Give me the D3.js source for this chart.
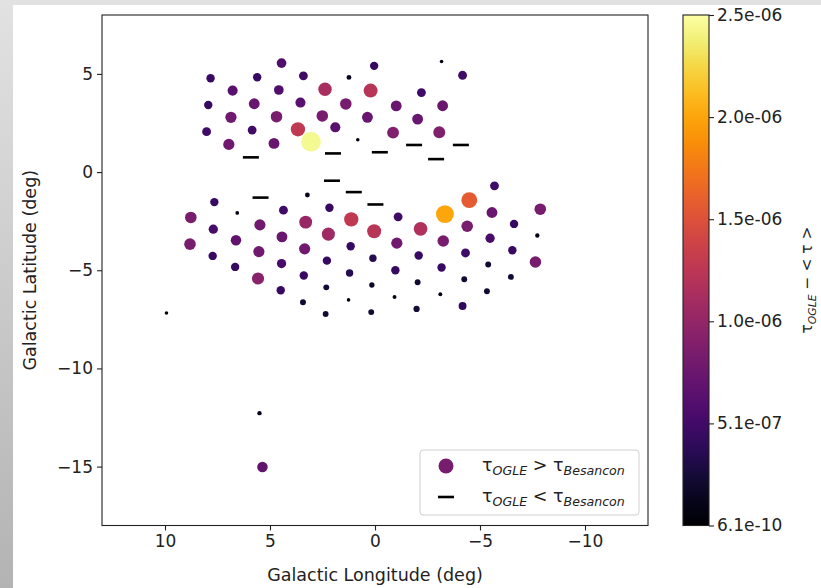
<!DOCTYPE html>
<html><head><meta charset="utf-8">
<script src="https://cdn.jsdelivr.net/npm/d3@7"></script>
<style>body{margin:0;background:#fff}svg{display:block;font-family:"DejaVu Sans",sans-serif}</style>
</head><body><svg id="c" width="821" height="588"></svg>
<script>
// Fields where tau_OGLE > tau_Besancon: longitude, latitude, tau_OGLE - <tau> (units 1e-6)
const lon = [7.83,6.78,7.94,6.86,8.02,6.96,5.61,5.75,5.85,4.45,4.58,4.69,4.81,3.41,3.55,3.67,3.05,2.38,2.51,1.89,1.24,1.39,0.82,0.04,0.21,0.36,-1.01,-0.86,-2.21,-2.03,-3.17,-3.22,-3.06,-4.17,
  8.77,8.81,7.65,7.70,7.73,6.56,6.62,6.66,5.48,5.53,5.57,4.36,4.43,4.45,4.49,3.22,3.30,3.35,3.39,3.43,2.17,2.22,2.29,2.32,2.35,1.13,1.16,1.21,1.26,0.04,0.10,0.15,0.18,-1.10,-1.04,-0.97,-0.93,-2.17,-2.08,-2.03,-1.98,-3.33,-3.25,-3.17,-3.11,-4.17,-4.49,-4.39,-4.31,-4.25,-5.33,-5.39,-5.48,-5.57,-5.69,-6.62,-6.54,-6.47,-7.87,-7.73,-7.64,9.93,5.50,5.36];
const lat = [4.78,4.15,3.42,2.79,2.06,1.41,4.83,3.48,2.14,5.55,4.18,2.82,1.46,4.90,3.54,2.18,1.55,4.22,2.86,2.28,4.82,3.47,1.65,5.41,4.15,2.79,3.37,2.01,4.05,2.70,5.63,3.38,2.03,4.93,
  -2.31,-3.67,-1.53,-2.91,-4.27,-2.08,-3.47,-4.83,-2.69,-4.05,-5.42,-1.94,-3.30,-4.66,-6.02,-1.17,-2.55,-3.91,-5.27,-6.63,-1.82,-3.16,-4.51,-5.87,-7.23,-2.41,-3.78,-5.14,-6.51,-3.01,-4.39,-5.75,-7.13,-2.28,-3.62,-5.00,-6.36,-2.89,-4.25,-5.61,-6.97,-2.14,-3.51,-4.86,-6.22,-6.82,-1.43,-2.76,-4.12,-5.46,-6.07,-4.71,-3.37,-2.06,-0.70,-2.64,-3.98,-5.34,-1.89,-3.23,-4.58,-7.18,-12.28,-15.02];
const tau = [0.45,0.65,0.45,0.80,0.50,0.80,0.45,0.75,0.50,0.60,0.60,0.85,0.75,0.50,0.65,1.30,2.50,1.15,0.85,0.65,0.15,0.85,0.08,0.45,1.25,0.75,0.75,0.90,0.50,0.75,0.08,0.75,0.90,0.50,
  0.85,0.85,0.45,0.55,0.45,0.09,0.70,0.45,0.80,0.80,0.95,0.50,0.75,0.55,0.45,0.15,1.05,0.80,0.45,0.22,0.45,1.10,0.45,0.22,0.22,1.30,0.45,0.35,0.08,1.25,0.35,0.18,0.22,0.50,0.80,0.45,0.10,1.20,0.45,0.22,0.25,2.05,0.85,0.45,0.10,0.40,1.60,0.85,0.50,0.22,0.22,0.22,0.55,0.75,0.50,0.45,0.45,0.22,0.85,0.12,0.85,0.06,0.12,0.70];
// Fields where tau_OGLE < tau_Besancon
const dashLon = [5.91,2.00,-0.23,-1.86,-2.91,-4.09,5.45,2.05,1.01,-0.02];
const dashLat = [0.75,0.95,1.01,1.38,0.66,1.38,-1.30,-0.44,-1.02,-1.65];
const xTicks = [10,5,0,-5,-10];
const yTicks = [5,0,-5,-10,-15];
const cbMin = 6.1e-10, cbMax = 2.55e-6;
const cbTickLabels = ["6.1e-10","5.1e-07","1.0e-06","1.5e-06","2.0e-06","2.5e-06"];

const svg = d3.select("#c");
const defs = svg.append("defs");
const lg = defs.append("linearGradient").attr("id","side").attr("x1",0).attr("y1",0).attr("x2",0).attr("y2",1);
lg.append("stop").attr("offset",0).attr("stop-color","#e2e2e2");
lg.append("stop").attr("offset",1).attr("stop-color","#b3b3b3");
svg.append("rect").attr("x",0).attr("y",0).attr("width",821).attr("height",5).attr("fill","#e1e1e1");
svg.append("rect").attr("x",0).attr("y",0).attr("width",13).attr("height",588).attr("fill","url(#side)");

const L=102, R=648, T=15, B=525.5;
const x = d3.scaleLinear().domain([13,-13]).range([L,R]);
const y = d3.scaleLinear().domain([8,-18]).range([T,B]);
const color = d3.scaleSequential(d3.interpolateInferno).domain([cbMin*1e6, cbMax*1e6]);
const rad = d3.scaleSqrt().domain([0, cbMax*1e6]).range([0, 10]);
const fs = 17;

const g = svg.append("g");
const pts = lon.map((l,i)=>({l, b:lat[i], v:tau[i]}));
g.selectAll("circle.p").data(pts).join("circle").attr("class","p")
  .attr("cx",d=>x(d.l)).attr("cy",d=>y(d.b)).attr("r",d=>Math.max(1.8,rad(d.v)))
  .attr("fill",d=>color(d.v));
g.selectAll("line.d").data(dashLon.map((l,i)=>({l,b:dashLat[i]}))).join("line").attr("class","d")
  .attr("x1",d=>x(d.l)-8).attr("x2",d=>x(d.l)+8).attr("y1",d=>y(d.b)).attr("y2",d=>y(d.b))
  .attr("stroke","#000").attr("stroke-width",2.6);

// axes
const xa = svg.append("g").attr("transform",`translate(0,${B})`)
  .call(d3.axisBottom(x).tickValues(xTicks).tickSize(5).tickPadding(4).tickFormat(d=>d<0?"\u2212"+(-d):d));
const ya = svg.append("g").attr("transform",`translate(${L},0)`)
  .call(d3.axisLeft(y).tickValues(yTicks).tickSize(5).tickPadding(4).tickFormat(d=>d<0?"\u2212"+(-d):d));
[xa,ya].forEach(a=>{a.select(".domain").remove();a.selectAll("text").attr("font-size",fs).attr("font-family","DejaVu Sans").attr("fill","#222");a.selectAll("line").attr("stroke","#222").attr("stroke-width",1.1);});
svg.append("rect").attr("x",L).attr("y",T).attr("width",R-L).attr("height",B-T).attr("fill","none").attr("stroke","#222").attr("stroke-width",1.1);

svg.append("text").attr("x",(L+R)/2).attr("y",581).attr("text-anchor","middle").attr("font-size",fs+0.5).attr("fill","#222").text("Galactic Longitude (deg)");
svg.append("text").attr("transform",`translate(36,${(T+B)/2}) rotate(-90)`).attr("text-anchor","middle").attr("font-size",fs+0.5).attr("fill","#222").text("Galactic Latitude (deg)");

// legend
const lfs = 17.5;
const leg = svg.append("g");
leg.append("rect").attr("x",420).attr("y",450).attr("width",219).attr("height",65).attr("rx",3)
  .attr("fill","#fff").attr("fill-opacity",0.8).attr("stroke","#d0d0d0");
leg.append("circle").attr("cx",446).attr("cy",466).attr("r",7.5).attr("fill",color(0.85));
leg.append("line").attr("x1",438).attr("x2",454).attr("y1",497).attr("y2",497).attr("stroke","#000").attr("stroke-width",2.6);
function mathLabel(sel, op){
  sel.append("tspan").text("τ");
  sel.append("tspan").attr("font-style","italic").attr("font-size",lfs*0.72).attr("dy",4).text("OGLE");
  sel.append("tspan").attr("dy",-4).text(" "+op+" τ");
  sel.append("tspan").attr("font-style","italic").attr("font-size",lfs*0.72).attr("dy",4).text("Besancon");
}
leg.append("text").attr("x",482).attr("y",471).attr("font-size",lfs).attr("fill","#222").call(s=>mathLabel(s,">"));
leg.append("text").attr("x",482).attr("y",502).attr("font-size",lfs).attr("fill","#222").call(s=>mathLabel(s,"<"));

// colorbar
const cbL=683, cbW=26;
const cg = defs.append("linearGradient").attr("id","cb").attr("x1",0).attr("y1",1).attr("x2",0).attr("y2",0);
d3.range(0,1.0001,0.05).forEach(t=>cg.append("stop").attr("offset",t).attr("stop-color",d3.interpolateInferno(t)));
svg.append("rect").attr("x",cbL).attr("y",T).attr("width",cbW).attr("height",B-T).attr("fill","url(#cb)").attr("stroke","#222").attr("stroke-width",1.1);
const cy = d3.scaleLinear().domain([0,cbTickLabels.length-1]).range([B,T]);
const ca = svg.append("g").attr("transform",`translate(${cbL+cbW},0)`)
  .call(d3.axisRight(cy).tickValues(d3.range(cbTickLabels.length)).tickSize(5).tickPadding(3).tickFormat(i=>cbTickLabels[i]));
ca.select(".domain").remove();
ca.selectAll("text").attr("font-size",fs).attr("font-family","DejaVu Sans").attr("fill","#222");
ca.selectAll("line").attr("stroke","#222").attr("stroke-width",1.1);
const cl = svg.append("text").attr("transform",`translate(812,280) rotate(-90)`).attr("text-anchor","middle").attr("font-size",fs-1.5).attr("fill","#222");
cl.append("tspan").text("τ");
cl.append("tspan").attr("font-style","italic").attr("font-size",(fs-1.5)*0.7).attr("dy",3.5).text("OGLE");
cl.append("tspan").attr("dy",-3.5).text(" \u2212 < τ >");
</script></body></html>
